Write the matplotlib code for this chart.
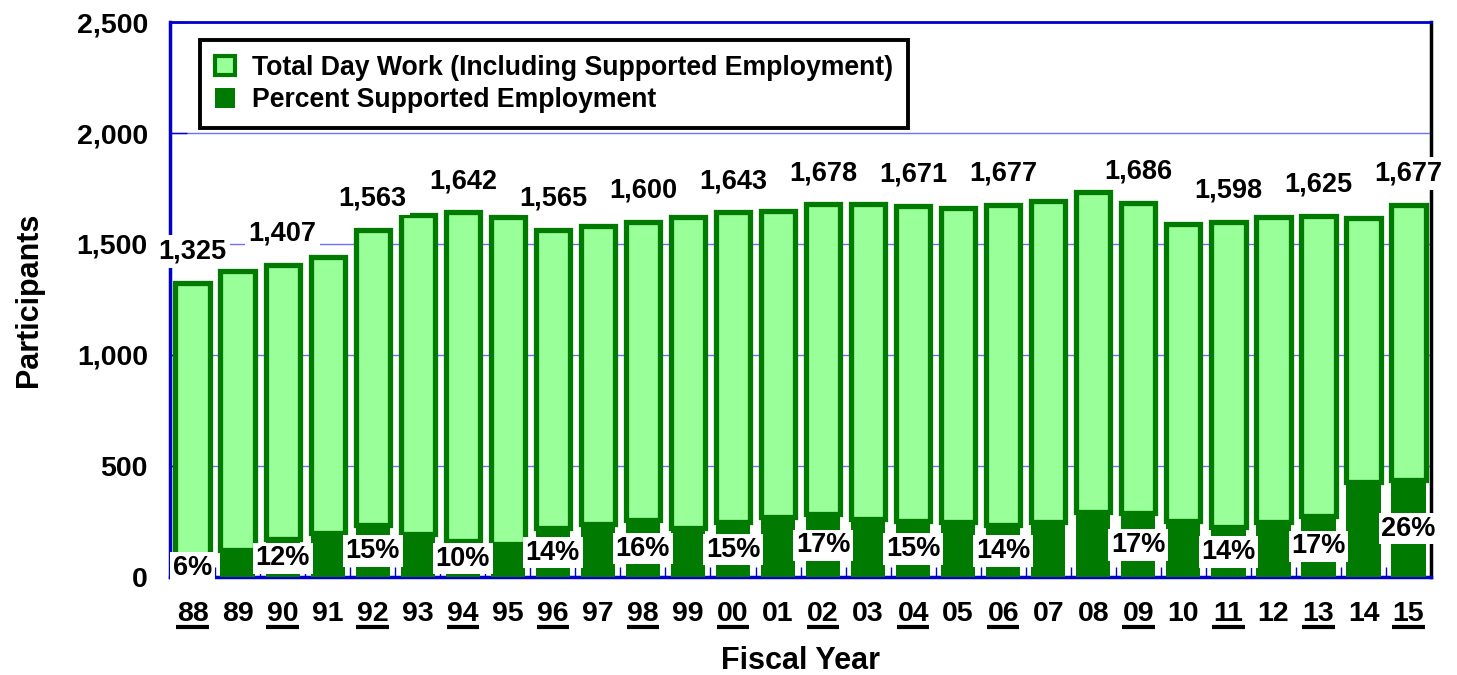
import numpy as np
import matplotlib
matplotlib.use("Agg")
import matplotlib.pyplot as plt
from matplotlib.patches import Patch
from matplotlib.ticker import FuncFormatter
import matplotlib.transforms as mtransforms

plt.rcParams['font.family'] = ['Liberation Sans', 'DejaVu Sans']
plt.rcParams['font.weight'] = 'bold'

# Fiscal years and participant counts
years = ['88', '89', '90', '91', '92', '93', '94', '95', '96', '97', '98', '99', '00', '01',
         '02', '03', '04', '05', '06', '07', '08', '09', '10', '11', '12', '13', '14', '15']
total_day_work = [1325, 1378, 1407, 1440, 1563, 1632, 1642, 1620, 1565, 1582, 1600, 1622, 1643, 1650,
                  1678, 1682, 1671, 1660, 1677, 1692, 1732, 1686, 1590, 1598, 1622, 1625, 1615, 1677]
supported_emp = [80, 120, 169, 198, 234, 195, 164, 150, 219, 240, 256, 220, 246, 272,
                 285, 261, 251, 249, 235, 249, 291, 287, 254, 224, 249, 276, 426, 436]

# labelled years (underlined) and their percent supported employment
labelled = ['88', '90', '92', '94', '96', '98', '00', '02', '04', '06', '09', '11', '13', '15']
pct_labels = [6, 12, 15, 10, 14, 16, 15, 17, 15, 14, 17, 14, 17, 26]

light_green = '#99ff99'
dark_green = '#007a00'
blue = '#0000cc'

fig = plt.figure(figsize=(14.57, 6.75), dpi=100)
ax = fig.add_axes([0.1167, 0.1452, 0.8655, 0.8222])

x = np.arange(len(years))
tot = np.array(total_day_work)
se = np.array(supported_emp)
w = 0.76

ax.bar(x, se, width=w, color=dark_green, linewidth=0, zorder=3)
ax.bar(x, tot - se, bottom=se, width=w, facecolor=light_green, edgecolor=dark_green,
       linewidth=3.8, zorder=3)

# value labels
for yr, p in zip(labelled, pct_labels):
    i = years.index(yr)
    ax.annotate(f'{tot[i]:,}', (x[i], tot[i]), xytext=(0, 22.5), textcoords='offset points',
                ha='center', va='center', fontsize=19.5, fontweight='bold', zorder=6,
                annotation_clip=False,
                bbox=dict(boxstyle='square,pad=0.12', facecolor='white', edgecolor='none'))
    ax.text(x[i], se[i] / 2, f'{p}%', ha='center', va='center', fontsize=19.5,
            fontweight='bold', zorder=6, clip_on=False,
            bbox=dict(boxstyle='square,pad=0.1', facecolor='white', edgecolor='none'))

ax.set_xlim(-0.5, len(years) - 0.5)
ax.set_ylim(0, 2500)
ax.set_yticks([0, 500, 1000, 1500, 2000, 2500])
ax.yaxis.set_major_formatter(FuncFormatter(lambda v, _: f'{int(v):,}'))
ax.grid(axis='y', color='#7070ff', linewidth=1.0, zorder=0)
ax.set_axisbelow(True)

ax.set_xticks(x)
ax.set_xticklabels(years)
ax.set_xticks(np.arange(-0.5, len(years)), minor=True)
ax.tick_params(axis='x', which='major', length=0, pad=17, labelsize=20.5)
ax.tick_params(axis='x', which='minor', direction='in', length=7, width=1, color=blue)
ax.tick_params(axis='y', which='major', direction='in', length=12, width=1, color=blue,
               pad=16, labelsize=20.5)

for side in ['left', 'bottom']:
    ax.spines[side].set_color(blue)
    ax.spines[side].set_linewidth(2.5)
ax.spines['top'].set_color(blue)
ax.spines['top'].set_linewidth(2)
ax.spines['right'].set_color('black')
ax.spines['right'].set_linewidth(2.5)

# underline labelled years
trans = mtransforms.blended_transform_factory(ax.transData, ax.transAxes)
for yr in labelled:
    i = years.index(yr)
    ax.plot([x[i] - 0.36, x[i] + 0.36], [-0.09, -0.09], color='black', linewidth=3,
            transform=trans, clip_on=False, solid_capstyle='butt')

ax.set_ylabel('Participants', fontsize=22, fontweight='bold')
ax.yaxis.set_label_coords(-0.1, 0.5)
ax.set_xlabel('Fiscal Year', fontsize=22, fontweight='bold')
ax.xaxis.set_label_coords(0.5, -0.125)

handles = [Patch(facecolor=light_green, edgecolor=dark_green, linewidth=3),
           Patch(facecolor=dark_green, edgecolor=dark_green, linewidth=0)]
leg = ax.legend(handles, ['Total Day Work (Including Supported Employment)',
                          'Percent Supported Employment'],
                loc='upper left', bbox_to_anchor=(0.024, 0.9676), borderaxespad=0,
                fontsize=19.2, frameon=True, fancybox=False, framealpha=1,
                handlelength=0.75, handleheight=0.75,
                handletextpad=0.65, labelspacing=0.25, borderpad=0.55)
leg.get_frame().set_edgecolor('black')
leg.get_frame().set_linewidth(2.8)
for t in leg.get_texts():
    t.set_fontweight('bold')
leg.set_zorder(7)

fig.savefig('out.png', dpi=100)
